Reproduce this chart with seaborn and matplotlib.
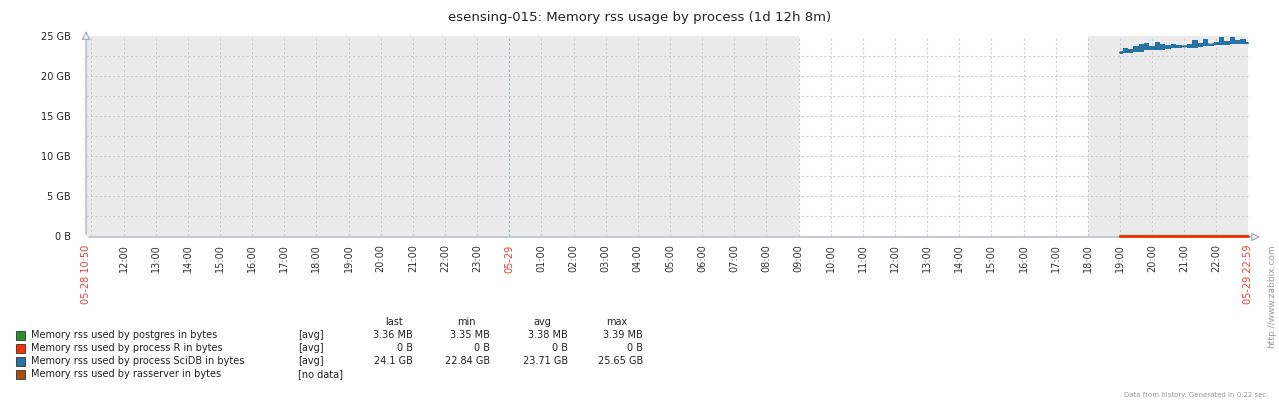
import matplotlib
matplotlib.use("Agg")
import matplotlib.pyplot as plt
import matplotlib.patches as mpatches
import seaborn as sns
import pandas as pd

# time axis: hours counted from 05-28 00:00
t_start = 10 + 50 / 60
t_end = 24 + 22 + 59 / 60
work_start = 24 + 9
work_end = 24 + 18

# SciDB samples, minutes after 05-29 19:00, values in GB
sci_minutes = [0, 10, 20, 30, 40, 50, 60, 70, 80, 90, 100, 110, 120,
               130, 140, 150, 160, 170, 180, 190, 200, 210, 220, 230, 239]
sci_avg = [22.95, 23.05, 23.1, 23.25, 23.35, 23.45, 23.55, 23.65, 23.5, 23.6, 23.7, 23.7, 23.7,
           23.75, 23.85, 23.9, 24.0, 23.9, 24.05, 24.2, 24.1, 24.3, 24.2, 24.25, 24.1]
sci_min = [22.8, 22.85, 22.9, 23.0, 23.05, 23.2, 23.3, 23.25, 23.2, 23.35, 23.45, 23.55, 23.6,
           23.5, 23.45, 23.65, 23.7, 23.75, 23.85, 23.85, 23.9, 23.95, 24.05, 24.05, 24.0]
sci_max = [23.05, 23.45, 23.35, 23.8, 24.0, 24.15, 23.75, 24.25, 23.95, 23.85, 24.05, 23.85, 23.8,
           23.95, 24.45, 24.15, 24.65, 24.05, 24.3, 24.85, 24.35, 24.9, 24.45, 24.6, 24.25]

# flat series (GB)
flat_hours = [43.0, t_end]
r_values = [0.0, 0.0]
pg_values = [0.00336, 0.00336]

legend_names = ["Memory rss used by postgres in bytes",
                "Memory rss used by process R in bytes",
                "Memory rss used by process SciDB in bytes",
                "Memory rss used by rasserver in bytes"]
legend_func = ["[avg]", "[avg]", "[avg]", "[no data]"]
legend_last = ["3.36 MB", "0 B", "24.1 GB", ""]
legend_min = ["3.35 MB", "0 B", "22.84 GB", ""]
legend_avg = ["3.38 MB", "0 B", "23.71 GB", ""]
legend_max = ["3.39 MB", "0 B", "25.65 GB", ""]
colors = ["#2c8c2c", "#f63100", "#2774a4", "#a54f10"]

y_ticks = [0, 5, 10, 15, 20, 25]
y_labels = ["0 B", "5 GB", "10 GB", "15 GB", "20 GB", "25 GB"]

sns.set_style("white")
plt.rcParams["font.family"] = ["DejaVu Sans"]

W, H = 1279, 404
fig = plt.figure(figsize=(W / 100, H / 100), dpi=100)
ax = fig.add_axes([86 / W, 1 - 236 / H, (1248 - 86) / W, 200 / H])

# working-time background
ax.axvspan(t_start, work_start, color="#ebebeb", lw=0, zorder=0)
ax.axvspan(work_end, t_end, color="#ebebeb", lw=0, zorder=0)

# grid
for v in [i * 2.5 for i in range(1, 10)]:
    ax.axhline(v, color="#cfcfcf", lw=0.8, ls=(0, (2, 2)), zorder=1)
for h in range(11, 47):
    c = "#9fb3c0" if h == 24 else "#cfcfcf"
    ax.axvline(h, color=c, lw=0.8, ls=(0, (2, 2)), zorder=1)

sci = pd.DataFrame({"hour": [43 + m / 60 for m in sci_minutes],
                    "avg": sci_avg, "min": sci_min, "max": sci_max})
ax.fill_between(sci["hour"], sci["min"], sci["max"], step="mid",
                color=colors[2], lw=0, zorder=3)
sns.lineplot(data=sci, x="hour", y="avg", color=colors[2], lw=1.5, ax=ax, zorder=4)
sns.lineplot(x=flat_hours, y=pg_values, color=colors[0], lw=1.5, ax=ax, zorder=4)
sns.lineplot(x=flat_hours, y=r_values, color=colors[1], lw=2.0, ax=ax, zorder=5)
for ln in ax.lines:
    ln.set_clip_on(False)

ax.set_xlim(t_start, t_end)
ax.set_ylim(0, 25)
ax.set_xlabel("")
ax.set_ylabel("")
for s in ax.spines.values():
    s.set_visible(False)

ax.set_yticks(y_ticks)
ax.set_yticklabels(y_labels)
ax.tick_params(axis="y", length=5, color="#cccccc", labelsize=7, labelcolor="#222222", pad=6)

x_ticks = [t_start] + list(range(12, 47)) + [t_end]
x_labels = ["05-28 10:50"] + [("05-29" if h == 24 else "%02d:00" % (h % 24)) for h in range(12, 47)] + ["05-29 22:59"]
ax.set_xticks(x_ticks)
ax.set_xticklabels(x_labels, rotation=90, va="top", ha="center")
ax.tick_params(axis="x", length=0, labelsize=7, labelcolor="#333333", pad=6)
for lbl, txt in zip(ax.get_xticklabels(), x_labels):
    if "-" in txt:
        lbl.set_color("#e8403c")

# axis lines with hollow arrows
axis_col = "#a9b4c0"
ax.annotate("", xy=(0, 1.04), xytext=(0, -0.005), xycoords="axes fraction",
            arrowprops=dict(arrowstyle="-|>,head_length=0.5,head_width=0.25",
                            color=axis_col, fc="white", lw=1), annotation_clip=False, zorder=2)
ax.annotate("", xy=(1.013, -0.005), xytext=(0, -0.005), xycoords="axes fraction",
            arrowprops=dict(arrowstyle="-|>,head_length=0.5,head_width=0.25",
                            color=axis_col, fc="white", lw=1), annotation_clip=False, zorder=2)

fig.text(640 / W, 1 - 18 / H, "esensing-015: Memory rss usage by process (1d 12h 8m)",
         ha="center", va="center", fontsize=9.5, color="#222222")

# legend table
fs = 7
hy = 322
fig.text(403 / W, 1 - hy / H, "last", ha="right", va="center", fontsize=fs, color="#222222")
fig.text(476 / W, 1 - hy / H, "min", ha="right", va="center", fontsize=fs, color="#222222")
fig.text(551 / W, 1 - hy / H, "avg", ha="right", va="center", fontsize=fs, color="#222222")
fig.text(627 / W, 1 - hy / H, "max", ha="right", va="center", fontsize=fs, color="#222222")
for i, name in enumerate(legend_names):
    y = 335 + 13 * i
    fig.patches.append(mpatches.Rectangle((16 / W, 1 - (y + 5) / H), 9 / W, 9 / H,
                                          transform=fig.transFigure, fc=colors[i],
                                          ec="#333333", lw=0.6))
    fig.text(31 / W, 1 - y / H, name, ha="left", va="center", fontsize=fs, color="#222222")
    fig.text(298 / W, 1 - y / H, legend_func[i], ha="left", va="center", fontsize=fs, color="#222222")
    for x, vals in [(413, legend_last), (490, legend_min), (568, legend_avg), (643, legend_max)]:
        fig.text(x / W, 1 - y / H, vals[i], ha="right", va="center", fontsize=fs, color="#222222")

fig.text(1268 / W, 1 - 395 / H, "Data from history. Generated in 0.22 sec.",
         ha="right", va="center", fontsize=5, color="#999999")
fig.text(1272 / W, 1 - 296 / H, "http://www.zabbix.com", rotation=90,
         ha="center", va="center", fontsize=6.5, color="#999999")

fig.savefig("out.png", dpi=100)
